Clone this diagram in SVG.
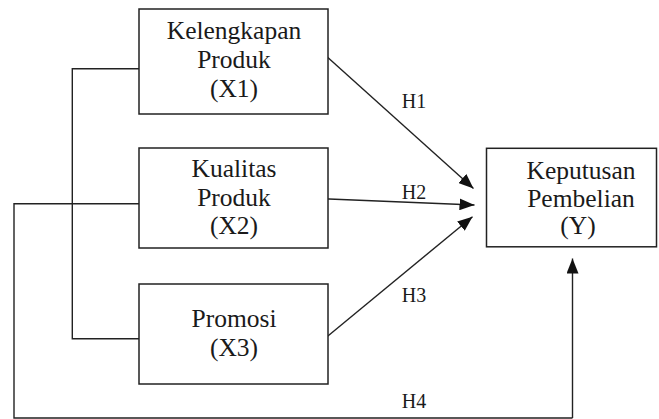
<svg xmlns="http://www.w3.org/2000/svg" width="659" height="419" viewBox="0 0 659 419">
<style>
.box{fill:#fff;stroke:#222;stroke-width:1.5}
.t{font-family:"Liberation Serif","Times New Roman",serif;font-size:25.5px;fill:#1a1a1a;text-anchor:middle}
.h{font-family:"Liberation Serif","Times New Roman",serif;font-size:20px;fill:#1a1a1a;text-anchor:middle}
.c{fill:none;stroke:#222;stroke-width:1.4}
</style>
<defs>
<marker id="ah" markerUnits="userSpaceOnUse" markerWidth="16" markerHeight="12" refX="15" refY="6" orient="auto">
<path d="M0,0 L15,6 L0,12 Z" fill="#111"/>
</marker>
</defs>
<rect width="659" height="419" fill="#fff"/>
<g id="connectors">
<polyline class="c" points="139,68.7 72.3,68.7 72.3,338.7 139,338.7"/>
<polyline class="c" points="139,203.7 14,203.7 14,418 572.5,418"/>
<line class="c" x1="572.5" y1="418" x2="572.5" y2="258.5" marker-end="url(#ah)"/>
<line class="c" x1="327" y1="56.7" x2="473.5" y2="188.5" marker-end="url(#ah)"/>
<line class="c" x1="323" y1="198.7" x2="474.5" y2="205" marker-end="url(#ah)"/>
<line class="c" x1="327" y1="336.7" x2="472.5" y2="216.7" marker-end="url(#ah)"/>
<text class="h" x="414" y="107.5">H1</text>
<text class="h" x="414" y="199">H2</text>
<text class="h" x="414" y="302">H3</text>
<text class="h" x="414" y="408">H4</text>
</g>
<g id="x1">
<rect class="box" x="139" y="9" width="189" height="105"/>
<text class="t" x="234" y="39">Kelengkapan</text>
<text class="t" x="234" y="68">Produk</text>
<text class="t" x="234" y="97">(X1)</text>
</g>
<g id="x2">
<rect class="box" x="139" y="148" width="189" height="100"/>
<text class="t" x="234" y="177">Kualitas</text>
<text class="t" x="234" y="205.5">Produk</text>
<text class="t" x="234" y="234">(X2)</text>
</g>
<g id="x3">
<rect class="box" x="139" y="284" width="189" height="100"/>
<text class="t" x="234" y="327">Promosi</text>
<text class="t" x="234" y="355.5">(X3)</text>
</g>
<g id="y">
<rect class="box" x="486.5" y="148.3" width="170" height="98.5"/>
<text class="t" x="581" y="178.5">Keputusan</text>
<text class="t" x="581" y="207">Pembelian</text>
<text class="t" x="578" y="234">(Y)</text>
</g>
</svg>
